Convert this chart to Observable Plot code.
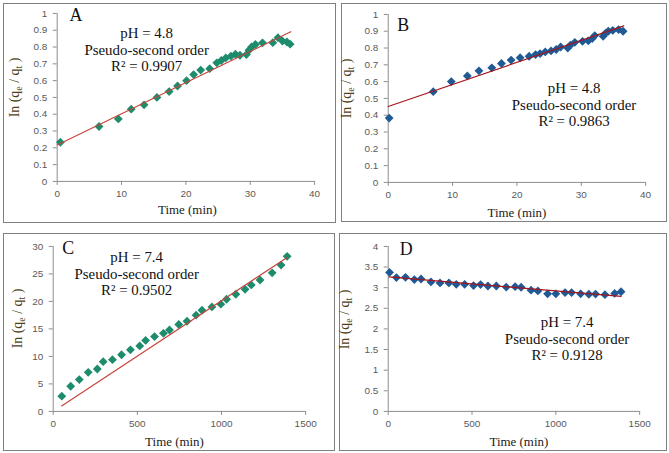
<!DOCTYPE html>
<html>
<head>
<meta charset="utf-8">
<script src="https://cdn.jsdelivr.net/npm/d3@7"></script>
<script src="https://cdn.jsdelivr.net/npm/@observablehq/plot@0.6"></script>
<style>
  body { margin: 0; background: #fff; }
  #root { position: relative; width: 669px; height: 453px; background: #fff; overflow: hidden; }
  .panel { position: absolute; border: 1px solid #7f7f7f; box-sizing: border-box; }
  .panel svg { position: absolute; left: -1px; top: -1px; }
</style>
</head>
<body>
<div id="root"></div>
<script>
// ---- Data ----
const timeA = [0.5, 6.5, 9.5, 11.5, 13.5, 15.5, 17.4, 18.7, 20.1, 21.2, 22.3, 23.7, 24.8, 25.5, 26.2, 27.0, 27.7, 28.4, 29.4, 29.8, 30.2, 30.8, 31.9, 33.5, 34.3, 35.0, 35.7, 36.2];
const lnA   = [0.233, 0.327, 0.372, 0.43, 0.456, 0.50, 0.535, 0.568, 0.60, 0.636, 0.663, 0.671, 0.706, 0.72, 0.735, 0.746, 0.757, 0.751, 0.755, 0.781, 0.80, 0.815, 0.825, 0.826, 0.856, 0.836, 0.83, 0.817];
const fitA_t = [0, 36.3];
const fitA_y = [0.217, 0.891];

const timeB = [0.15, 7.0, 9.8, 12.3, 14.1, 16.1, 17.6, 19.1, 20.5, 21.9, 22.9, 23.6, 24.4, 25.3, 26.1, 26.8, 27.9, 28.3, 29.0, 30.2, 31.1, 31.7, 32.1, 33.4, 33.8, 34.2, 34.9, 35.8, 36.5];
const lnB   = [0.383, 0.54, 0.60, 0.634, 0.664, 0.682, 0.708, 0.728, 0.742, 0.751, 0.761, 0.767, 0.777, 0.783, 0.791, 0.806, 0.80, 0.817, 0.834, 0.84, 0.843, 0.856, 0.874, 0.87, 0.889, 0.90, 0.905, 0.91, 0.90];
const fitB_t = [0, 36.6];
const fitB_y = [0.452, 0.932];

const timeC = [51, 104, 155, 208, 262, 297, 352, 406, 459, 514, 549, 602, 655, 691, 746, 795, 849, 884, 943, 996, 1030, 1085, 1140, 1177, 1229, 1301, 1354, 1390];
const lnC   = [2.77, 4.58, 5.78, 7.1, 7.71, 9.04, 9.4, 10.3, 11.2, 11.9, 12.9, 13.6, 14.2, 14.8, 15.8, 16.4, 17.5, 18.4, 19.0, 19.5, 20.4, 21.3, 22.2, 23.0, 23.9, 25.2, 26.6, 28.2];
const fitC_t = [50, 1390];
const fitC_y = [1.0, 28.0];

const timeD = [8, 49, 103, 156, 196, 255, 309, 362, 406, 456, 509, 551, 595, 645, 704, 757, 793, 852, 893, 951, 1000, 1055, 1094, 1148, 1197, 1237, 1293, 1351, 1389];
const lnD   = [3.37, 3.245, 3.25, 3.195, 3.21, 3.14, 3.115, 3.115, 3.08, 3.08, 3.05, 3.075, 3.04, 3.04, 3.015, 3.025, 3.01, 2.94, 2.92, 2.85, 2.85, 2.88, 2.88, 2.85, 2.84, 2.845, 2.83, 2.86, 2.9];
const fitD_t = [5, 1390];
const fitD_y = [3.26, 2.79];

// Tick labels
const ticksX40 = [0, 10, 20, 30, 40];
const ticksX1500 = [0, 500, 1000, 1500];
const ticksY1 = [0, 0.1, 0.2, 0.3, 0.4, 0.5, 0.6, 0.7, 0.8, 0.9, 1];
const ticksY30 = [0, 5, 10, 15, 20, 25, 30];
const ticksY4 = [0, 0.5, 1, 1.5, 2, 2.5, 3, 3.5, 4];

// Texts
const letters = ["A", "B", "C", "D"];
const phLabels = ["pH = 4.8", "pH = 4.8", "pH = 7.4", "pH = 7.4"];
const modelLabel = "Pseudo-second order";
const r2Labels = ["R² = 0.9907", "R² = 0.9863", "R² = 0.9502", "R² = 0.9128"];
const xLabel = "Time (min)";

const zip = (t, y) => t.map((v, i) => ({t: v, y: y[i]}));

const panels = [
  {left: 3, top: 3, w: 333, h: 220, ml: 54, mr: 20, mt: 10, mb: 41,
   xd: [0, 40], xt: ticksX40, yd: [0, 1], yt: ticksY1,
   pts: zip(timeA, lnA), fit: zip(fitA_t, fitA_y), color: "#1d8c6c", line: "#c8443c",
   letter: [19, 2], ann: [90, 20], ylab: [16, 85], xlab: [1.5, 29]},
  {left: 341, top: 3, w: 326, h: 219, ml: 47, mr: 20, mt: 11, mb: 39,
   xd: [0, 40], xt: ticksX40, yd: [0, 1], yt: ticksY1,
   pts: zip(timeB, lnB), fit: zip(fitB_t, fitB_y), color: "#1f5a94", line: "#a3161f",
   letter: [15, 11], ann: [187, 74], ylab: [10, 86], xlab: [0, 31]},
  {left: 3, top: 233, w: 332, h: 218, ml: 50, mr: 28, mt: 13, mb: 39,
   xd: [0, 1500], xt: ticksX1500, yd: [0, 30], yt: ticksY30,
   pts: zip(timeC, lnC), fit: zip(fitC_t, fitC_y), color: "#1d8c6c", line: "#c8443c",
   letter: [15, 2], ann: [84, 11], ylab: [19, 86], xlab: [-5, 31]},
  {left: 339, top: 233, w: 328, h: 218, ml: 49, mr: 26, mt: 13, mb: 39,
   xd: [0, 1500], xt: ticksX1500, yd: [0, 4], yt: ticksY4,
   pts: zip(timeD, lnD), fit: zip(fitD_t, fitD_y), color: "#1f5a94", line: "#a3161f",
   letter: [18, 3], ann: [180, 76], ylab: [10, 87], xlab: [5, 31]}
];

const serif = "'Liberation Serif', 'Times New Roman', serif";
const root = document.getElementById("root");

panels.forEach((p, i) => {
  const div = document.createElement("div");
  div.className = "panel";
  Object.assign(div.style, {left: p.left + "px", top: p.top + "px", width: p.w + "px", height: p.h + "px"});
  const fmt = d => String(+d.toFixed(2));
  const txt = {fontFamily: serif, fill: "#111", fontWeight: "normal", textAnchor: "middle", lineAnchor: "middle"};
  const chart = Plot.plot({
    width: p.w, height: p.h,
    marginLeft: p.ml, marginRight: p.mr, marginTop: p.mt, marginBottom: p.mb,
    x: {domain: p.xd},
    y: {domain: p.yd},
    style: {fontFamily: "'Liberation Sans', Arial, sans-serif", fontSize: "10px", color: "#595959", background: "transparent", overflow: "visible"},
    marks: [
      Plot.axisY({ticks: p.yt, tickSize: 4, tickPadding: 6, label: null, stroke: "#8c8c8c", tickFormat: fmt}),
      Plot.axisX({ticks: p.xt, tickSize: 4, tickPadding: 5, label: null, stroke: "#8c8c8c", tickFormat: fmt}),
      Plot.ruleX([p.xd[0]], {stroke: "#8c8c8c"}),
      Plot.ruleY([p.yd[0]], {stroke: "#8c8c8c"}),
      Plot.dot(p.pts, {x: "t", y: "y", symbol: "diamond2", r: 4, fill: p.color, stroke: "none"}),
      Plot.line(p.fit, {x: "t", y: "y", stroke: p.line, strokeWidth: 1.2}),
      Plot.text([letters[i]], {...txt, frameAnchor: "top-left", dx: p.letter[0], dy: p.letter[1], fontSize: 18}),
      Plot.text([phLabels[i]], {...txt, frameAnchor: "top-left", dx: p.ann[0], dy: p.ann[1], fontSize: 15}),
      Plot.text([modelLabel], {...txt, frameAnchor: "top-left", dx: p.ann[0], dy: p.ann[1] + 17, fontSize: 15}),
      Plot.text([r2Labels[i]], {...txt, frameAnchor: "top-left", dx: p.ann[0], dy: p.ann[1] + 33, fontSize: 15}),
      Plot.text([xLabel], {...txt, fill: "#222", frameAnchor: "bottom", dx: p.xlab[0], dy: p.xlab[1], fontSize: 13})
    ]
  });
  // y-axis label with subscripts
  const t = d3.select(chart).append("text")
    .attr("transform", `translate(${p.ylab[0]},${p.ylab[1]}) rotate(-90)`)
    .attr("text-anchor", "middle")
    .style("font-family", serif)
    .style("font-size", "14px")
    .style("fill", "#4e3f18");
  t.append("tspan").text("In (q");
  t.append("tspan").attr("dy", 3).style("font-size", "10px").text("e");
  t.append("tspan").attr("dy", -3).text(" / q");
  t.append("tspan").attr("dy", 3).style("font-size", "10px").text("t");
  t.append("tspan").attr("dy", -3).text(" )");
  div.appendChild(chart);
  root.appendChild(div);
});
</script>
</body>
</html>
